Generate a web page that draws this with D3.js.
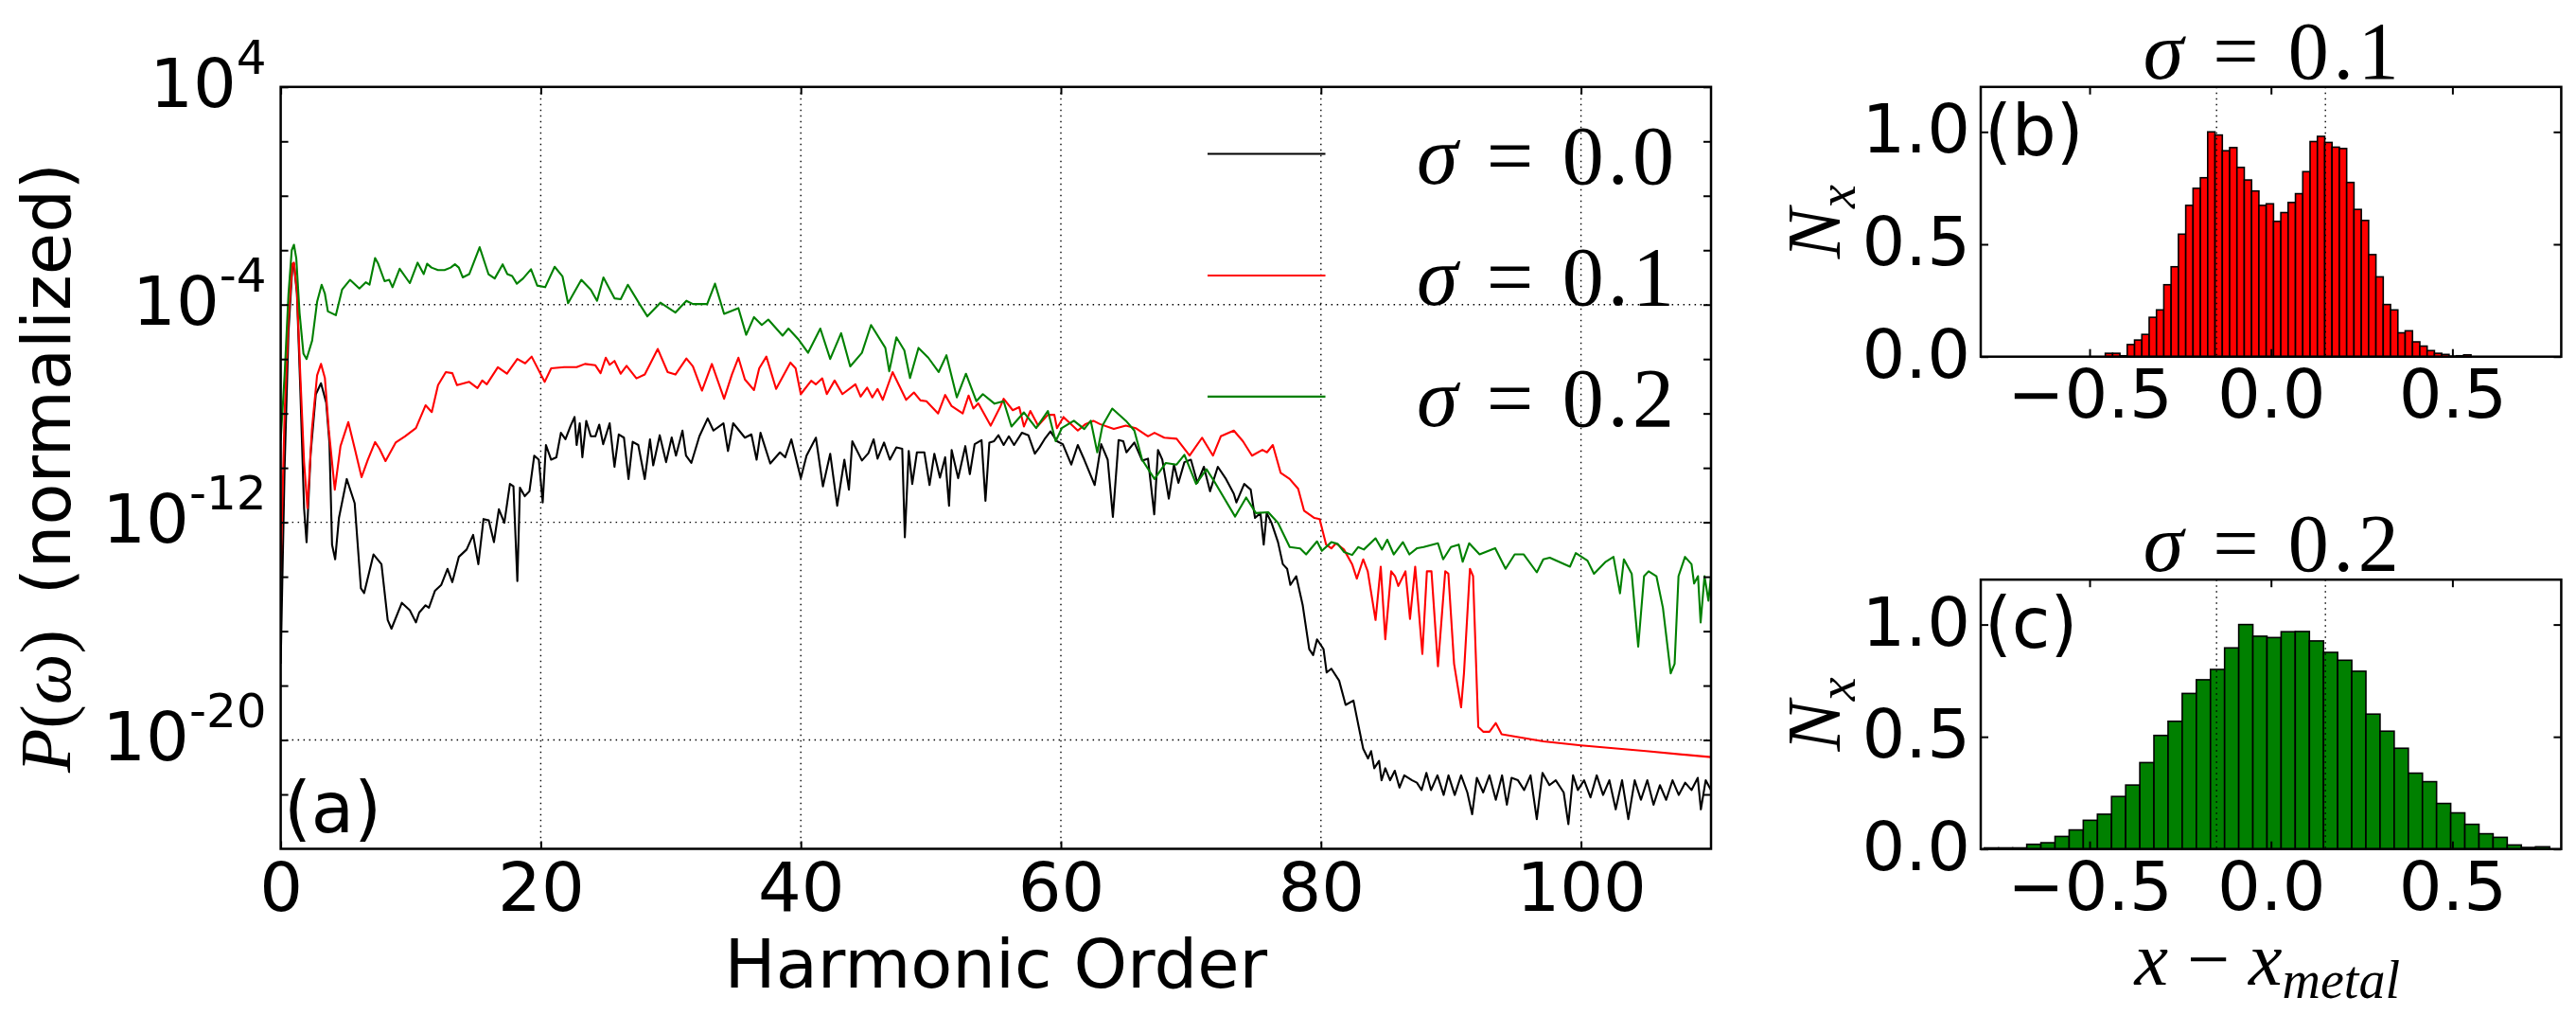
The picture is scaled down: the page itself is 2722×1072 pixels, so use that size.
<!DOCTYPE html>
<html>
<head>
<meta charset="utf-8">
<script src="https://cdn.jsdelivr.net/npm/d3@7"></script>
<style>
  body { margin: 0; background: #fff; }
  text { fill: #000; }
</style>
</head>
<body>
<div id="chart"></div>
<script>
// ---- data: harmonic order vs log10 P(w) ----
var harmonicTicks = [0, 20, 40, 60, 80, 100];
var logTickLabels = [4, -4, -12, -20];
var logTickMarks = [2, 0, -2, -6, -8, -10, -14, -16, -18, -22];
var legendLabels = ["0.0", "0.1", "0.2"];

var spec00 = [[0,-17.2],[0.3,-10.0],[0.6,-5.0],[0.9,-2.6],[1.02,-2.5],[1.25,-3.6],[1.5,-7.0],[1.8,-11.5],[1.99,-12.73],[2.3,-9.5],[2.7,-7.3],[3.1,-6.89],[3.5,-7.6],[3.75,-9.1],[3.95,-12.82],[4.19,-13.36],[4.48,-11.84],[5.08,-10.41],[5.69,-11.3],[6.17,-14.43],[6.42,-14.6],[7.14,-13.18],[7.75,-13.54],[8.23,-15.59],[8.52,-15.91],[9.32,-14.96],[9.93,-15.23],[10.4,-15.68],[10.65,-15.32],[11.14,-15.05],[11.4,-15.14],[11.86,-14.52],[12.35,-14.3],[12.83,-13.71],[13.2,-14.2],[13.7,-13.27],[14.3,-13.0],[14.8,-12.46],[15.2,-13.54],[15.6,-11.88],[16.0,-11.93],[16.4,-12.73],[16.78,-11.52],[17.2,-12.02],[17.63,-10.59],[17.9,-10.68],[18.2,-14.16],[18.4,-10.73],[18.77,-11.04],[19.13,-10.86],[19.5,-9.55],[19.85,-9.7],[20.15,-11.27],[20.4,-9.16],[20.8,-9.7],[21.2,-9.61],[21.55,-8.71],[21.9,-8.95],[22.3,-8.45],[22.6,-8.13],[22.76,-9.16],[23.0,-8.36],[23.2,-9.61],[23.5,-8.27],[23.85,-8.84],[24.2,-8.84],[24.5,-8.41],[24.8,-9.13],[25.3,-8.36],[25.67,-9.96],[26.0,-8.77],[26.4,-8.89],[26.75,-10.41],[27.07,-9.04],[27.5,-9.16],[28.0,-10.41],[28.4,-8.95],[28.65,-9.91],[29.15,-8.8],[29.64,-9.79],[30.07,-8.88],[30.4,-9.55],[30.9,-8.63],[31.17,-9.55],[31.58,-9.82],[32.2,-8.84],[32.84,-8.18],[33.28,-8.63],[34.05,-8.36],[34.4,-9.38],[34.8,-8.36],[35.7,-8.89],[36.2,-8.77],[36.6,-9.7],[36.9,-8.71],[37.65,-9.84],[38.4,-9.43],[38.8,-9.61],[39.27,-8.95],[40.0,-10.38],[40.44,-9.55],[41.16,-8.89],[41.7,-10.68],[42.26,-9.48],[42.8,-11.39],[43.35,-9.7],[43.7,-10.8],[43.96,-9.02],[44.7,-9.73],[45.2,-9.46],[45.6,-8.95],[45.9,-9.66],[46.4,-9.07],[46.85,-9.7],[47.35,-9.25],[47.8,-9.3],[48.0,-12.55],[48.3,-9.38],[48.57,-10.59],[48.93,-9.43],[49.5,-9.43],[49.9,-10.63],[50.27,-9.48],[50.7,-10.36],[51.1,-9.61],[51.4,-11.39],[51.6,-9.34],[52.1,-10.38],[52.65,-9.2],[53.0,-10.23],[53.37,-9.13],[53.9,-8.98],[54.2,-11.21],[54.5,-9.07],[54.86,-9.02],[55.2,-8.8],[55.6,-9.16],[56.0,-8.84],[56.4,-9.16],[57.0,-8.71],[57.5,-8.8],[58.0,-9.48],[58.35,-9.25],[58.74,-8.95],[59.2,-8.66],[59.7,-9.02],[60.15,-9.13],[60.8,-9.88],[61.3,-9.16],[61.8,-9.7],[62.6,-10.63],[63.1,-9.13],[63.6,-9.7],[64.0,-11.8],[64.44,-8.98],[64.8,-9.02],[65.04,-9.43],[65.65,-9.07],[66.25,-9.73],[66.7,-9.66],[67.18,-11.71],[67.47,-9.34],[67.8,-9.7],[68.3,-11.13],[68.7,-9.88],[69.04,-10.55],[69.5,-9.79],[70.0,-9.7],[70.5,-10.55],[71.0,-9.96],[71.47,-10.86],[72.07,-9.96],[72.7,-10.41],[73.3,-10.95],[73.5,-11.27],[74.1,-10.59],[74.6,-10.8],[74.93,-11.84],[75.35,-11.66],[75.6,-12.82],[75.83,-11.66],[76.2,-12.02],[76.7,-12.73],[77.07,-13.54],[77.4,-13.71],[77.65,-14.3],[78.1,-13.98],[78.6,-15.05],[79.1,-16.66],[79.4,-16.88],[79.7,-16.3],[80.2,-16.66],[80.44,-17.52],[80.8,-17.38],[81.4,-17.82],[81.9,-18.71],[82.5,-18.55],[82.9,-19.5],[83.25,-20.32],[83.62,-20.68],[83.86,-20.41],[84.1,-21.04],[84.47,-20.77],[84.66,-21.48],[84.95,-21.04],[85.32,-21.48],[85.68,-21.13],[86.04,-21.75],[86.41,-21.3],[87.01,-21.48],[87.38,-21.57],[87.74,-21.84],[88.11,-21.21],[88.47,-21.84],[88.96,-21.3],[89.44,-22.02],[89.81,-21.3],[90.29,-22.02],[90.78,-21.3],[91.26,-21.93],[91.63,-22.73],[91.99,-21.39],[92.48,-21.93],[92.96,-21.3],[93.45,-22.2],[93.93,-21.3],[94.3,-22.38],[94.66,-21.39],[95.15,-21.48],[95.63,-21.84],[96.12,-21.3],[96.6,-22.91],[97.04,-21.21],[97.57,-21.66],[98.06,-21.48],[98.67,-21.93],[99.03,-23.09],[99.39,-21.3],[99.76,-21.84],[100.24,-21.48],[100.73,-22.11],[101.21,-21.3],[101.7,-22.02],[102.18,-21.48],[102.67,-22.55],[103.16,-21.48],[103.64,-22.91],[104.13,-21.48],[104.61,-22.2],[105.1,-21.48],[105.58,-22.38],[106.07,-21.66],[106.55,-22.2],[107.04,-21.48],[107.52,-22.02],[108.01,-21.57],[108.5,-21.84],[108.98,-21.39],[109.22,-22.55],[109.59,-21.48],[110,-21.84]];

var spec01 = [[0,-13.8],[0.3,-8.0],[0.6,-4.5],[0.9,-2.5],[1.02,-2.46],[1.25,-3.5],[1.5,-6.5],[1.8,-9.8],[2.06,-11.48],[2.4,-8.6],[2.8,-6.6],[3.1,-6.18],[3.4,-6.7],[3.7,-8.6],[4.16,-10.8],[4.6,-9.2],[5.2,-8.32],[5.7,-9.3],[6.22,-10.34],[6.7,-9.7],[7.26,-9.05],[7.6,-9.3],[8.06,-9.75],[8.84,-9.07],[9.56,-8.84],[10.4,-8.54],[11.14,-7.7],[11.62,-7.95],[12.1,-6.96],[12.7,-6.48],[13.2,-6.52],[13.56,-6.96],[14.5,-6.84],[15.13,-7.07],[15.5,-6.79],[15.85,-6.93],[16.7,-6.3],[17.4,-6.54],[18.2,-6.0],[18.8,-6.16],[19.3,-5.91],[20.3,-6.84],[20.8,-6.34],[21.8,-6.3],[22.76,-6.3],[23.4,-6.18],[24.2,-6.23],[24.6,-6.52],[25.0,-5.95],[25.3,-6.21],[25.67,-6.07],[26.15,-6.54],[26.6,-6.25],[27.36,-6.71],[28.0,-6.57],[29.0,-5.63],[29.76,-6.48],[30.36,-6.57],[31.2,-5.98],[31.7,-6.27],[32.4,-7.16],[33.16,-6.18],[34.1,-7.46],[34.7,-6.57],[35.2,-5.95],[35.7,-6.75],[36.4,-7.14],[36.8,-6.34],[37.35,-5.91],[38.1,-7.1],[39.2,-6.13],[39.6,-6.34],[40.0,-7.29],[40.8,-6.8],[41.15,-6.93],[41.65,-6.71],[42.0,-7.29],[42.6,-6.79],[43.2,-7.29],[44.2,-6.93],[44.6,-7.38],[45.1,-7.05],[45.5,-7.41],[45.9,-7.1],[46.3,-7.5],[47.06,-6.48],[48.1,-7.5],[48.7,-7.23],[49.2,-7.52],[49.66,-7.55],[50.56,-8.0],[51.1,-7.32],[51.6,-7.73],[52.45,-8.0],[52.9,-7.34],[53.27,-7.82],[53.65,-7.63],[54.6,-8.45],[55.36,-7.73],[55.6,-7.46],[56.3,-7.88],[56.8,-7.77],[57.16,-8.48],[57.65,-7.91],[58.25,-8.45],[59.0,-8.05],[59.5,-8.05],[59.7,-8.54],[60.2,-8.13],[61.3,-8.63],[61.9,-8.39],[62.5,-8.27],[63.0,-8.39],[64.07,-8.57],[65.0,-8.45],[65.75,-8.54],[66.7,-8.84],[67.2,-8.71],[67.95,-8.89],[68.9,-8.93],[69.9,-9.55],[70.86,-8.89],[71.7,-9.55],[72.3,-8.84],[73.3,-8.63],[74.0,-9.02],[74.7,-9.55],[75.5,-9.34],[75.85,-9.43],[76.3,-9.16],[76.9,-10.18],[77.6,-10.41],[78.25,-10.77],[78.7,-11.57],[79.5,-11.84],[79.9,-11.88],[80.4,-12.82],[80.8,-12.96],[81.16,-12.77],[81.77,-13.0],[82.4,-13.54],[82.76,-14.07],[83.25,-13.36],[83.6,-13.8],[84.2,-15.59],[84.6,-13.63],[84.95,-16.3],[85.4,-13.8],[85.7,-13.98],[85.95,-14.34],[86.5,-13.8],[86.85,-15.55],[87.25,-13.63],[87.8,-16.84],[88.15,-13.8],[88.5,-13.8],[89.0,-17.29],[89.56,-13.8],[89.8,-13.89],[90.24,-17.2],[90.78,-18.8],[91.0,-17.55],[91.46,-13.71],[91.7,-13.98],[92.1,-19.52],[92.5,-19.7],[92.96,-19.7],[93.45,-19.38],[93.9,-19.79],[97.1,-20.05],[100,-20.2],[105,-20.41],[110,-20.63]];

var spec02 = [[0,-9.0],[0.3,-6.6],[0.6,-3.6],[0.85,-2.0],[1.02,-1.8],[1.2,-2.3],[1.45,-4.3],[1.75,-5.8],[1.99,-6.0],[2.42,-5.32],[2.8,-3.9],[3.15,-3.27],[3.4,-3.6],[3.63,-4.25],[4.24,-4.39],[4.72,-3.45],[5.33,-3.09],[6.05,-3.41],[6.54,-3.18],[6.83,-3.27],[7.26,-2.29],[7.5,-2.5],[7.99,-3.14],[8.35,-3.09],[8.6,-3.36],[9.15,-2.68],[9.93,-3.21],[10.53,-2.46],[11.0,-2.88],[11.26,-2.5],[11.6,-2.64],[12.1,-2.73],[12.6,-2.73],[13.07,-2.64],[13.4,-2.52],[13.7,-2.64],[14.0,-3.0],[14.5,-2.88],[15.3,-1.89],[15.98,-2.88],[16.46,-3.04],[17.07,-2.52],[17.43,-2.88],[17.8,-2.95],[18.16,-3.23],[18.64,-3.04],[19.25,-2.7],[19.73,-3.3],[20.34,-3.36],[21.07,-2.61],[21.67,-2.96],[22.1,-3.95],[23.12,-3.09],[23.85,-3.45],[24.33,-3.86],[24.82,-3.0],[25.67,-3.77],[26.15,-3.8],[26.7,-3.27],[27.6,-3.98],[28.2,-4.43],[29.2,-3.93],[30.36,-4.29],[31.2,-3.86],[31.7,-3.98],[32.8,-3.98],[33.4,-3.23],[34.1,-4.34],[35.2,-4.13],[35.8,-5.11],[36.4,-4.46],[37.0,-4.75],[37.5,-4.55],[38.6,-5.14],[39.05,-4.88],[39.8,-5.27],[40.56,-5.77],[41.5,-4.88],[42.26,-6.0],[43.1,-5.05],[43.8,-6.27],[44.7,-5.77],[45.4,-4.75],[46.5,-5.59],[46.8,-6.45],[47.35,-5.2],[47.96,-5.68],[48.4,-6.7],[49.05,-5.59],[49.8,-5.95],[50.6,-6.48],[51.2,-5.86],[52.0,-7.41],[52.7,-6.54],[53.5,-7.55],[54.0,-7.29],[54.9,-7.64],[55.6,-7.55],[56.2,-8.48],[57.16,-7.96],[58.1,-8.54],[59.0,-7.91],[59.6,-9.02],[60.07,-8.54],[61.0,-8.27],[61.8,-8.57],[62.3,-8.27],[62.8,-9.43],[63.2,-8.45],[63.95,-7.82],[65.0,-8.27],[65.65,-8.63],[66.25,-9.7],[67.2,-10.41],[68.07,-9.82],[68.9,-9.88],[69.5,-9.52],[70.4,-10.59],[71.2,-10.05],[71.8,-10.5],[73.4,-11.79],[74.25,-11.09],[75.0,-11.66],[75.95,-11.63],[76.7,-12.02],[77.6,-12.91],[78.4,-12.96],[78.86,-13.18],[79.7,-12.7],[80.07,-13.05],[80.8,-12.73],[81.3,-12.8],[81.77,-13.09],[82.4,-13.2],[82.86,-12.91],[83.3,-13.0],[84.2,-12.59],[84.7,-13.0],[85.1,-12.64],[85.6,-13.18],[86.3,-12.73],[86.8,-13.18],[87.4,-12.95],[87.9,-12.91],[89.0,-12.77],[89.4,-13.36],[90.0,-12.91],[90.6,-12.82],[90.9,-13.45],[91.4,-12.77],[92.2,-13.18],[93.4,-12.95],[94.2,-13.71],[94.9,-13.18],[95.6,-13.18],[96.6,-13.84],[97.1,-13.36],[97.6,-13.3],[99.15,-13.63],[99.6,-13.13],[100.5,-13.41],[101.0,-13.89],[101.9,-13.45],[102.5,-13.27],[103.0,-14.61],[103.3,-13.36],[103.9,-13.89],[104.4,-16.57],[104.85,-13.98],[105.2,-13.8],[105.8,-13.98],[106.3,-15.14],[106.9,-17.55],[107.2,-17.2],[107.5,-13.98],[108.0,-13.27],[108.5,-13.54],[108.7,-14.25],[109.0,-13.98],[109.2,-15.68],[109.5,-13.98],[109.8,-14.88],[110,-13.98]];

// ---- histograms (normalized counts) ----
var distTicks = [-0.5, 0.0, 0.5];
var countTicks = [0.0, 0.5, 1.0];
var metalMarks = [-0.15, 0.15];

var histB_start = -0.4567, histB_width = 0.02016;
var histB = [0.015,0.015,0.004,0.054,0.074,0.099,0.175,0.208,0.32,0.40,0.545,0.673,0.749,0.796,1.0,0.986,0.916,0.930,0.842,0.786,0.737,0.673,0.680,0.602,0.641,0.686,0.725,0.823,0.957,0.980,0.953,0.932,0.926,0.775,0.655,0.606,0.454,0.355,0.232,0.208,0.106,0.115,0.066,0.047,0.027,0.015,0.010,0.002,0.004,0.008];

var histC_start = -0.790, histC_width = 0.03895;
var histC = [0.005,0.005,0.005,0.021,0.028,0.056,0.085,0.128,0.155,0.234,0.285,0.385,0.506,0.569,0.693,0.754,0.80,0.896,1.0,0.948,0.942,0.968,0.969,0.927,0.876,0.841,0.792,0.601,0.525,0.449,0.338,0.30,0.203,0.161,0.11,0.068,0.052,0.018,0.007,0.010];

// ---- drawing ----
var SANS = "DejaVu Sans", SERIF = "Liberation Serif";
var svg = d3.select("#chart").append("svg")
  .attr("width", 2722)
  .attr("height", 1072);

function dotted(sel) {
  return sel.attr("stroke", "#000").attr("stroke-width", 1.4)
    .attr("stroke-dasharray", "1.5,4.5").attr("fill", "none");
}

// panel (a)
var boxA = {l: 296.6, r: 1808, t: 91.8, b: 896.5};
var xA = d3.scaleLinear().domain([0, 110]).range([boxA.l, boxA.r]);
var yA = d3.scaleLog().domain([1e-24, 1e4]).range([boxA.b, boxA.t]);
var gA = svg.append("g");

gA.append("clipPath").attr("id", "clipA").append("rect")
  .attr("x", boxA.l).attr("y", boxA.t)
  .attr("width", boxA.r - boxA.l).attr("height", boxA.b - boxA.t);

// grid
gA.selectAll(".gx").data(harmonicTicks.filter(function(d){ return d > 0; }))
  .enter().append("line")
  .attr("x1", function(d){ return xA(d); }).attr("x2", function(d){ return xA(d); })
  .attr("y1", boxA.t).attr("y2", boxA.b).call(dotted);
gA.selectAll(".gy").data(logTickLabels.filter(function(e){ return e < 4; }))
  .enter().append("line")
  .attr("y1", function(e){ return yA(Math.pow(10, e)); }).attr("y2", function(e){ return yA(Math.pow(10, e)); })
  .attr("x1", boxA.l).attr("x2", boxA.r).call(dotted);

// spectra
var line = d3.line()
  .x(function(d){ return xA(d[0]); })
  .y(function(d){ return yA(Math.pow(10, d[1])); });
var series = [
  {data: spec00, color: "#000000"},
  {data: spec01, color: "#ff0000"},
  {data: spec02, color: "#008000"}
];
gA.append("g").attr("clip-path", "url(#clipA)")
  .selectAll("path").data(series).enter().append("path")
  .attr("d", function(s){ return line(s.data); })
  .attr("fill", "none")
  .attr("stroke", function(s){ return s.color; })
  .attr("stroke-width", 2.1)
  .attr("stroke-linejoin", "round");

// ticks (inward, all four sides)
var allLog = logTickLabels.concat(logTickMarks).map(function(e){ return Math.pow(10, e); });
gA.append("g").attr("transform", "translate(0," + boxA.b + ")")
  .call(d3.axisBottom(xA).tickValues(harmonicTicks).tickSize(-8).tickPadding(14).tickFormat(d3.format("d")));
gA.append("g").attr("transform", "translate(0," + boxA.t + ")")
  .call(d3.axisTop(xA).tickValues(harmonicTicks).tickSize(-8).tickFormat(""));
gA.append("g").attr("transform", "translate(" + boxA.l + ",0)")
  .call(d3.axisLeft(yA).tickValues(allLog).tickSize(-8).tickFormat(""));
gA.append("g").attr("transform", "translate(" + boxA.r + ",0)")
  .call(d3.axisRight(yA).tickValues(allLog).tickSize(-8).tickFormat(""));

// log labels 10^n
logTickLabels.forEach(function(e) {
  var t = gA.append("text")
    .attr("x", boxA.l - 15)
    .attr("y", yA(Math.pow(10, e)) + 21.5)
    .attr("text-anchor", "end")
    .style("font-family", SANS);
  t.append("tspan").style("font-size", "72px").text("10");
  t.append("tspan").style("font-size", "50px").attr("dy", -35.5).text(String(e));
});

gA.append("rect")
  .attr("x", boxA.l).attr("y", boxA.t)
  .attr("width", boxA.r - boxA.l).attr("height", boxA.b - boxA.t)
  .attr("fill", "none").attr("stroke", "#000").attr("stroke-width", 2.5);

gA.append("text").attr("x", (boxA.l + boxA.r) / 2).attr("y", 1043)
  .attr("text-anchor", "middle").style("font-family", SANS).style("font-size", "72px")
  .text("Harmonic Order");

var ylab = gA.append("text").attr("transform", "translate(74,494) rotate(-90)")
  .attr("text-anchor", "middle");
ylab.append("tspan").style("font-family", SERIF).style("font-style", "italic").style("font-size", "76px").text("P");
ylab.append("tspan").style("font-family", SERIF).style("font-size", "76px").text("(");
ylab.append("tspan").style("font-family", SERIF).style("font-style", "italic").style("font-size", "76px").text("ω");
ylab.append("tspan").style("font-family", SERIF).style("font-size", "76px").text(")");
ylab.append("tspan").style("font-family", SANS).style("font-size", "72px").attr("dx", 14).text(" (normalized)");

gA.append("text").attr("x", 300).attr("y", 879)
  .style("font-family", SANS).style("font-size", "74px").text("(a)");

// legend
var legY = [162.5, 291, 418.8];
var leg = gA.append("g").selectAll("g").data(series).enter().append("g");
leg.append("line")
  .attr("x1", 1276).attr("x2", 1400.5)
  .attr("y1", function(d, i){ return legY[i]; }).attr("y2", function(d, i){ return legY[i]; })
  .attr("stroke", function(s){ return s.color; }).attr("stroke-width", 2.2);
leg.each(function(d, i) {
  var t = d3.select(this).append("text")
    .attr("x", 1497).attr("y", legY[i] + 31)
    .attr("textLength", 272).attr("lengthAdjust", "spacing")
    .style("font-family", SERIF).style("font-size", "88px");
  t.append("tspan").style("font-style", "italic").text("σ");
  t.append("tspan").text(" = " + legendLabels[i]);
});

// panels (b), (c)
function histPanel(box, counts, start, width, color, title, tag, showXLabel) {
  var x = d3.scaleLinear().domain([-0.8, 0.8]).range([box.l, box.r]);
  var y = d3.scaleLinear().domain([0, 1.2]).range([box.b, box.t]);
  var g = svg.append("g");

  g.selectAll("rect.bar").data(counts).enter().append("rect")
    .attr("class", "bar")
    .attr("x", function(d, i){ return x(start + i * width); })
    .attr("width", x(width) - x(0))
    .attr("y", function(d){ return y(d); })
    .attr("height", function(d){ return y(0) - y(d); })
    .attr("fill", color).attr("stroke", "#000").attr("stroke-width", 1.6);

  g.selectAll("line.mark").data(metalMarks).enter().append("line")
    .attr("x1", function(d){ return x(d); }).attr("x2", function(d){ return x(d); })
    .attr("y1", box.t).attr("y2", box.b).call(dotted);

  g.append("g").attr("transform", "translate(0," + box.b + ")")
    .call(d3.axisBottom(x).tickValues(distTicks).tickSize(-8).tickPadding(13)
      .tickFormat(function(d){ return d3.format(".1f")(d).replace("-", "\u2212"); }));
  g.append("g").attr("transform", "translate(0," + box.t + ")")
    .call(d3.axisTop(x).tickValues(distTicks).tickSize(-8).tickFormat(""));
  var yl = g.append("g").attr("transform", "translate(" + box.l + ",0)")
    .call(d3.axisLeft(y).tickValues(countTicks).tickSize(-8).tickPadding(11).tickFormat(d3.format(".1f")));
  yl.selectAll("text").attr("dy", "0.3em");
  g.append("g").attr("transform", "translate(" + box.r + ",0)")
    .call(d3.axisRight(y).tickValues(countTicks).tickSize(-8).tickFormat(""));

  g.append("rect")
    .attr("x", box.l).attr("y", box.t)
    .attr("width", box.r - box.l).attr("height", box.b - box.t)
    .attr("fill", "none").attr("stroke", "#000").attr("stroke-width", 2.5);

  var tt = g.append("text").attr("x", (box.l + box.r) / 2).attr("y", box.t - 9)
    .attr("text-anchor", "middle").attr("textLength", 270).attr("lengthAdjust", "spacing")
    .style("font-family", SERIF).style("font-size", "86px");
  tt.append("tspan").style("font-style", "italic").text("σ");
  tt.append("tspan").text(" = " + title);

  g.append("text").attr("x", box.l + 4).attr("y", box.t + 72)
    .style("font-family", SANS).style("font-size", "74px").text(tag);

  var nl = g.append("text")
    .attr("transform", "translate(1944," + ((box.t + box.b) / 2) + ") rotate(-90)")
    .attr("text-anchor", "middle").style("font-family", SERIF).style("font-style", "italic");
  nl.append("tspan").style("font-size", "80px").text("N");
  nl.append("tspan").style("font-size", "56px").attr("dy", 16).text("x");

  if (showXLabel) {
    var xl = g.append("text").attr("x", (box.l + box.r) / 2 - 4).attr("y", 1040)
      .attr("text-anchor", "middle").style("font-family", SERIF).style("font-size", "80px");
    xl.append("tspan").style("font-style", "italic").text("x");
    xl.append("tspan").text(" \u2212 ");
    xl.append("tspan").style("font-style", "italic").text("x");
    xl.append("tspan").style("font-style", "italic").style("font-size", "56px").attr("dy", 14).text("metal");
  }
  return g;
}

histPanel({l: 2093, r: 2706.4, t: 91.8, b: 376.7}, histB, histB_start, histB_width, "#ff0000", "0.1", "(b)", false);
histPanel({l: 2093, r: 2706.4, t: 612.2, b: 896.7}, histC, histC_start, histC_width, "#008000", "0.2", "(c)", true);

// axis styling shared
svg.selectAll(".domain").remove();
svg.selectAll(".tick line").attr("stroke", "#000").attr("stroke-width", 2);
svg.selectAll(".tick text").style("font-family", SANS).style("font-size", "72px").attr("fill", "#000");
</script>
</body>
</html>
